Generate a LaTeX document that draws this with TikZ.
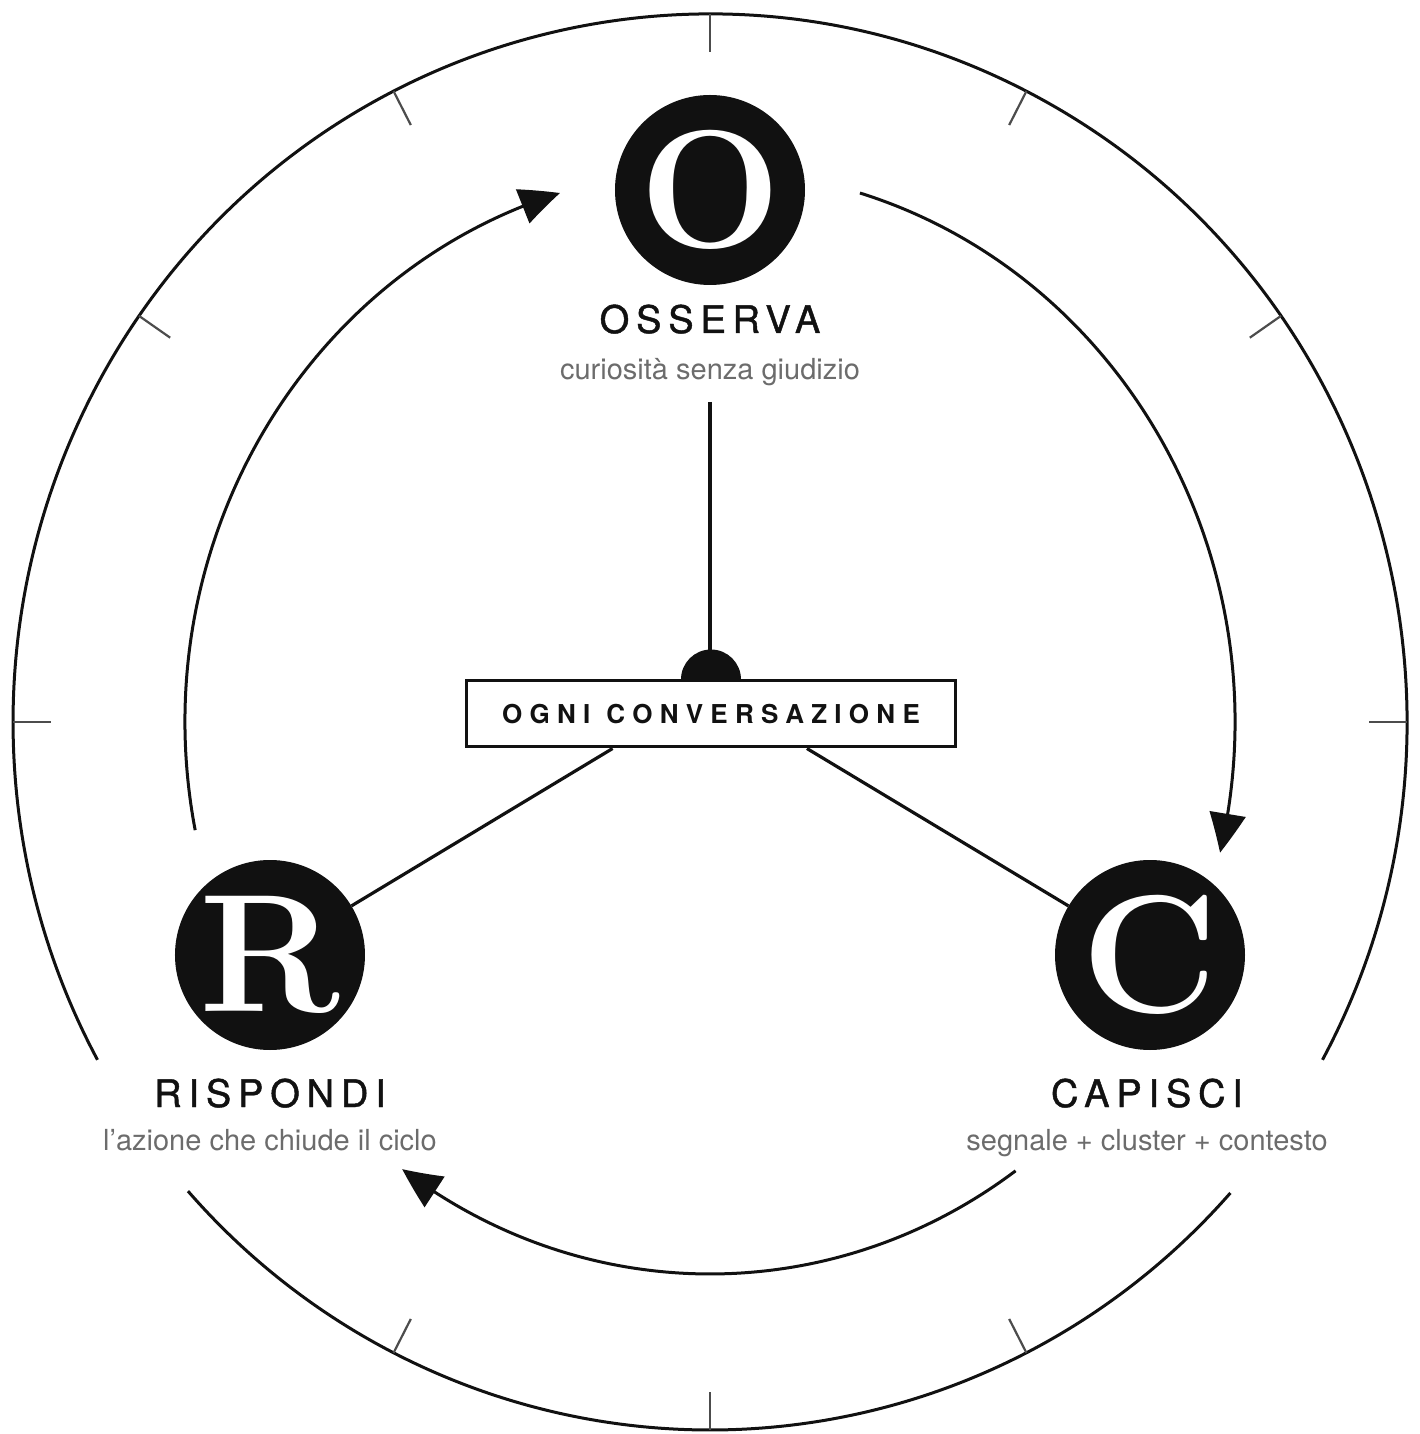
\documentclass[tikz,border=0pt]{standalone}
\usepackage{fontspec}
\newfontfamily\heros{TeX Gyre Heros}
\newfontfamily\herosspaced[LetterSpace=18,FakeBold=1.2]{TeX Gyre Heros}
\newfontfamily\herosbox[LetterSpace=28]{TeX Gyre Heros}
\usetikzlibrary{arrows.meta, positioning, calc, bending}

\definecolor{ink}{HTML}{111111}
\definecolor{captiongray}{HTML}{6c6c6c}

\tikzset{
  stage/.style={circle, fill=ink, minimum size=190pt, inner sep=0pt, text=white,
    font=\fontsize{168}{168}\selectfont\bfseries},
  title/.style={anchor=base, text=ink, font=\herosspaced\fontsize{38}{38}\selectfont},
  caption/.style={anchor=base, text=captiongray, font=\heros\fontsize{29}{29}\selectfont},
  convbox/.style={draw=ink, line width=3pt, fill=white, minimum width=489pt,
    minimum height=66pt, inner sep=0pt, text=ink, font=\herosbox\bfseries\fontsize{26}{26}\selectfont},
  ring/.style={line width=3pt, draw=ink},
  ringtick/.style={line width=2.2pt, draw=ink!75},
  cycle/.style={line width=3pt, draw=ink, -{Triangle[length=40pt,width=36pt,bend]}},
  spoke/.style={line width=3.2pt, draw=ink}
}

\begin{document}
\begin{tikzpicture}[x=1pt, y=1pt]
  \useasboundingbox (-710,-712) rectangle (709,722);

  % outer ring with gaps near the lower labels
  \draw[ring] (-28.5:697 and 708) arc[start angle=-28.5, end angle=208.5, x radius=697, y radius=708];
  \draw[ring] (221.5:697 and 708) arc[start angle=221.5, end angle=318.3, x radius=697, y radius=708];
  \foreach \a in {0,35,63,90,117,145,180,243,270,297}
    \draw[ringtick] (\a:697 and 708) -- (\a:659 and 670);

  % stages
  \node[stage] (o) at (0,532) {O};
  \node[stage] (r) at (-440,-233) {R};
  \node[stage] (c) at (440,-233) {C};

  \node[title] (osserva) at (0,389) {OSSERVA};
  \node[caption] (osservasub) at (0,342) {curiosità senza giudizio};
  \node[title] (rispondi) at (-440,-385) {RISPONDI};
  \node[caption] (rispondisub) at (-440,-428) {l’azione che chiude il ciclo};
  \node[title] (capisci) at (437,-385) {CAPISCI};
  \node[caption] (caviscisub) at (437,-428) {segnale + cluster + contesto};

  % cycle arrows
  \draw[cycle] (191.3:525 and 552) arc[start angle=191.3, end angle=106.6, x radius=525, y radius=552];
  \draw[cycle] (73.4:525 and 552) arc[start angle=73.4, end angle=-13.7, x radius=525, y radius=552];
  \draw[cycle] (-54.4:525 and 552) arc[start angle=-54.4, end angle=-125.9, x radius=525, y radius=552];

  % centre
  \node[convbox] (conv) at (1,8) {OGNI\hspace{16pt}CONVERSAZIONE};
  \coordinate (otop) at (0,320);
  \draw[spoke] (otop) -- (otop |- conv.north);
  \fill[ink] (conv.north) ++(-30,0) arc[start angle=180, end angle=0, radius=30];
  \draw[spoke] ($(conv.south west)!0.3!(conv.south east)$) -- (r);
  \draw[spoke] ($(conv.south west)!0.695!(conv.south east)$) -- (c);
\end{tikzpicture}
\end{document}
